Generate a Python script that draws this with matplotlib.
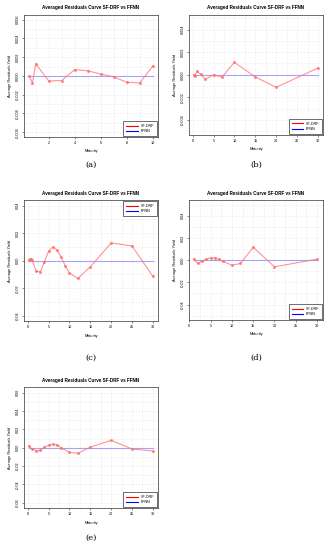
import matplotlib
matplotlib.use("Agg")
import matplotlib.pyplot as plt
from matplotlib.ticker import FormatStrFormatter, MultipleLocator

plt.rcParams['font.family'] = ['Liberation Sans', 'DejaVu Sans']

TITLE = "Averaged Residuals Curve SF-DRF vs FFNN"

# panel (a)
a_maturity = [0.5, 0.75, 1, 2, 3, 4, 5, 6, 7, 8, 9, 10]
a_sfdrf = [0.0, -0.00075, 0.0013, -0.00054, -0.0005, 0.00068, 0.00054,
           0.0002, -0.0001, -0.00068, -0.00075, 0.00104]
a_ffnn = [0.0] * len(a_maturity)

# panel (b)
b_maturity = [0.25, 0.5, 1, 2, 3, 5, 7, 10, 15, 20, 30]
b_sfdrf = [0.0, -0.00015, 0.0003, 0.00003, -0.0004, 0.0, -0.0002,
           0.0011, -0.0002, -0.0011, 0.0006]
b_ffnn = [0.0] * len(b_maturity)

# panel (c)
c_maturity = [0.25, 0.5, 0.75, 1, 2, 3, 4, 5, 6, 7, 8, 9, 10, 12, 15, 20, 25, 30]
c_sfdrf = [0.0007, 0.001, 0.0015, 0.0005, -0.0073, -0.0083, -0.0007, 0.007,
           0.010, 0.0078, 0.0027, -0.0039, -0.009, -0.0129, -0.0044, 0.0129,
           0.0107, -0.0114]
c_ffnn = [0.0] * len(c_maturity)

# panel (d)
d_maturity = [1, 2, 3, 4, 5, 6, 7, 8, 10, 12, 15, 20, 30]
d_sfdrf = [0.0012, -0.003, -0.0009, 0.0009, 0.002, 0.002, 0.0006, -0.0012,
           -0.0045, -0.003, 0.0116, -0.006, 0.0009]
d_ffnn = [0.0] * len(d_maturity)

# panel (e)
e_maturity = [0.25, 1, 2, 3, 4, 5, 6, 7, 8, 10, 12, 15, 20, 25, 30]
e_sfdrf = [0.0018, -0.0011, -0.0033, -0.0029, 0.0004, 0.0029, 0.0036, 0.0029,
           0.0, -0.005, -0.0062, 0.0007, 0.008, -0.0014, -0.0036]
e_ffnn = [0.0] * len(e_maturity)


def draw_panel(fig, rect, maturity, sfdrf, ffnn, ylim, ystep, yfmt,
               xlim, xstep, legend_loc, caption, cap_y):
    ax = fig.add_axes(rect)
    ax.plot(maturity, ffnn, color='#8080ff', alpha=0.7, lw=0.8)
    ax.plot(maturity, sfdrf, color='#ff7070', alpha=0.75, lw=0.8,
            marker='o', ms=1.2)
    ax.set_xlim(*xlim)
    ax.set_ylim(-ylim, ylim)
    ax.xaxis.set_major_locator(MultipleLocator(xstep))
    ax.xaxis.set_minor_locator(MultipleLocator(xstep / 2))
    ax.yaxis.set_major_locator(MultipleLocator(ystep))
    ax.yaxis.set_minor_locator(MultipleLocator(ystep / 2))
    ax.yaxis.set_major_formatter(FormatStrFormatter(yfmt))
    ax.grid(True, which='both', color='#d8d8d8', lw=0.4, ls=':')
    ax.set_axisbelow(True)
    ax.tick_params(which='major', labelsize=2.7, length=1.5, width=0.4,
                   pad=1.5, color='#333333')
    ax.tick_params(which='minor', length=0)
    for lab in ax.get_yticklabels():
        lab.set_rotation(90)
        lab.set_va('center')
    for sp in ax.spines.values():
        sp.set_linewidth(0.5)
        sp.set_color('#333333')
    ax.set_title(TITLE, fontsize=3.3, fontweight='bold', pad=4)
    ax.set_xlabel("Maturity", fontsize=2.8, labelpad=3)
    ax.set_ylabel("Average Residuals Yield", fontsize=2.8, labelpad=3)
    h1, = ax.plot([], [], color='red', lw=0.8)
    h2, = ax.plot([], [], color='blue', lw=0.8)
    ax.legend([h1, h2], ["SF-DRF", "FFNN"], loc=legend_loc, fontsize=2.7,
              frameon=True, fancybox=False, edgecolor='black',
              framealpha=1, handlelength=3, borderpad=0.8,
              labelspacing=0.35, borderaxespad=0.2).get_frame().set_linewidth(0.4)
    fig.text(rect[0] + rect[2] / 2, 1 - cap_y / 550, caption,
             family='DejaVu Serif', fontsize=6, ha='center', va='center')
    return ax


fig = plt.figure(figsize=(3.29, 5.5), dpi=100)

draw_panel(fig, [0.073, 0.751, 0.407, 0.222], a_maturity, a_sfdrf, a_ffnn,
           0.0065, 0.002, '%.3f', (0.1, 10.4), 2, 'lower right', '(a)', 165)
draw_panel(fig, [0.574, 0.755, 0.408, 0.218], b_maturity, b_sfdrf, b_ffnn,
           0.0053, 0.002, '%.3f', (-0.9, 31.2), 5, 'lower right', '(b)', 165)
draw_panel(fig, [0.073, 0.416, 0.407, 0.220], c_maturity, c_sfdrf, c_ffnn,
           0.044, 0.02, '%.2f', (-0.9, 31.2), 5, 'upper right', '(c)', 358)
draw_panel(fig, [0.574, 0.418, 0.408, 0.218], d_maturity, d_sfdrf, d_ffnn,
           0.054, 0.02, '%.2f', (-0.1, 31.4), 5, 'lower right', '(d)', 358)
draw_panel(fig, [0.073, 0.076, 0.407, 0.220], e_maturity, e_sfdrf, e_ffnn,
           0.066, 0.02, '%.2f', (-0.9, 31.2), 5, 'lower right', '(e)', 538)

fig.savefig("out.png", dpi=100, facecolor='white')
